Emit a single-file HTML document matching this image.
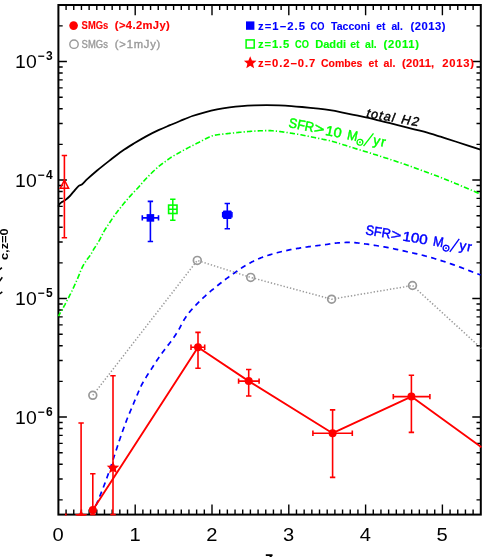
<!DOCTYPE html>
<html><head><meta charset="utf-8"><title>chart</title>
<style>html,body{margin:0;padding:0;background:#fff;overflow:hidden}svg{display:block;will-change:transform}text{font-family:"Liberation Sans",sans-serif}</style></head>
<body>
<svg width="485" height="557" viewBox="0 0 485 557">
<rect x="0" y="0" width="485" height="557" fill="#fff"/>
<defs><clipPath id="cp"><rect x="57.4" y="4" width="424.4" height="511.7"/></clipPath></defs>
<g stroke="#000" fill="none">
<rect x="58.4" y="5" width="422.4" height="509.6" stroke-width="2"/>
<path d="M66.08 514.6v-5.1M66.08 5v5.1M73.76 514.6v-5.1M73.76 5v5.1M81.44 514.6v-5.1M81.44 5v5.1M89.12 514.6v-5.1M89.12 5v5.1M96.8 514.6v-5.1M96.8 5v5.1M104.48 514.6v-5.1M104.48 5v5.1M112.16 514.6v-5.1M112.16 5v5.1M119.84 514.6v-5.1M119.84 5v5.1M127.52 514.6v-5.1M127.52 5v5.1M135.2 514.6v-10.2M135.2 5v10.2M142.88 514.6v-5.1M142.88 5v5.1M150.56 514.6v-5.1M150.56 5v5.1M158.24 514.6v-5.1M158.24 5v5.1M165.92 514.6v-5.1M165.92 5v5.1M173.6 514.6v-5.1M173.6 5v5.1M181.28 514.6v-5.1M181.28 5v5.1M188.96 514.6v-5.1M188.96 5v5.1M196.64 514.6v-5.1M196.64 5v5.1M204.32 514.6v-5.1M204.32 5v5.1M212 514.6v-10.2M212 5v10.2M219.68 514.6v-5.1M219.68 5v5.1M227.36 514.6v-5.1M227.36 5v5.1M235.04 514.6v-5.1M235.04 5v5.1M242.72 514.6v-5.1M242.72 5v5.1M250.4 514.6v-5.1M250.4 5v5.1M258.08 514.6v-5.1M258.08 5v5.1M265.76 514.6v-5.1M265.76 5v5.1M273.44 514.6v-5.1M273.44 5v5.1M281.12 514.6v-5.1M281.12 5v5.1M288.8 514.6v-10.2M288.8 5v10.2M296.48 514.6v-5.1M296.48 5v5.1M304.16 514.6v-5.1M304.16 5v5.1M311.84 514.6v-5.1M311.84 5v5.1M319.52 514.6v-5.1M319.52 5v5.1M327.2 514.6v-5.1M327.2 5v5.1M334.88 514.6v-5.1M334.88 5v5.1M342.56 514.6v-5.1M342.56 5v5.1M350.24 514.6v-5.1M350.24 5v5.1M357.92 514.6v-5.1M357.92 5v5.1M365.6 514.6v-10.2M365.6 5v10.2M373.28 514.6v-5.1M373.28 5v5.1M380.96 514.6v-5.1M380.96 5v5.1M388.64 514.6v-5.1M388.64 5v5.1M396.32 514.6v-5.1M396.32 5v5.1M404 514.6v-5.1M404 5v5.1M411.68 514.6v-5.1M411.68 5v5.1M419.36 514.6v-5.1M419.36 5v5.1M427.04 514.6v-5.1M427.04 5v5.1M434.72 514.6v-5.1M434.72 5v5.1M442.4 514.6v-10.2M442.4 5v10.2M450.08 514.6v-5.1M450.08 5v5.1M457.76 514.6v-5.1M457.76 5v5.1M465.44 514.6v-5.1M465.44 5v5.1M473.12 514.6v-5.1M473.12 5v5.1M58.4 499.87h4.3M480.8 499.87h-4.3M58.4 479h4.3M480.8 479h-4.3M58.4 464.19h4.3M480.8 464.19h-4.3M58.4 452.71h4.3M480.8 452.71h-4.3M58.4 443.33h4.3M480.8 443.33h-4.3M58.4 435.39h4.3M480.8 435.39h-4.3M58.4 428.52h4.3M480.8 428.52h-4.3M58.4 422.46h4.3M480.8 422.46h-4.3M58.4 417.04h8.5M480.8 417.04h-8.5M58.4 381.37h4.3M480.8 381.37h-4.3M58.4 360.5h4.3M480.8 360.5h-4.3M58.4 345.69h4.3M480.8 345.69h-4.3M58.4 334.21h4.3M480.8 334.21h-4.3M58.4 324.83h4.3M480.8 324.83h-4.3M58.4 316.89h4.3M480.8 316.89h-4.3M58.4 310.02h4.3M480.8 310.02h-4.3M58.4 303.96h4.3M480.8 303.96h-4.3M58.4 298.54h8.5M480.8 298.54h-8.5M58.4 262.87h4.3M480.8 262.87h-4.3M58.4 242h4.3M480.8 242h-4.3M58.4 227.19h4.3M480.8 227.19h-4.3M58.4 215.71h4.3M480.8 215.71h-4.3M58.4 206.33h4.3M480.8 206.33h-4.3M58.4 198.39h4.3M480.8 198.39h-4.3M58.4 191.52h4.3M480.8 191.52h-4.3M58.4 185.46h4.3M480.8 185.46h-4.3M58.4 180.04h8.5M480.8 180.04h-8.5M58.4 144.37h4.3M480.8 144.37h-4.3M58.4 123.5h4.3M480.8 123.5h-4.3M58.4 108.69h4.3M480.8 108.69h-4.3M58.4 97.21h4.3M480.8 97.21h-4.3M58.4 87.83h4.3M480.8 87.83h-4.3M58.4 79.89h4.3M480.8 79.89h-4.3M58.4 73.02h4.3M480.8 73.02h-4.3M58.4 66.96h4.3M480.8 66.96h-4.3M58.4 61.54h8.5M480.8 61.54h-8.5M58.4 25.87h4.3M480.8 25.87h-4.3" stroke-width="1.4"/>
</g>
<g clip-path="url(#cp)" fill="none" stroke-linecap="butt" stroke-linejoin="round">
<path d="M58.2 206.6C58.43 206.15 59.03 204.63 59.6 203.9C60.17 203.17 60.72 202.78 61.6 202.2C62.48 201.62 63.52 201.43 64.9 200.4C66.28 199.37 68.45 197.47 69.9 196C71.35 194.53 72.17 193.25 73.6 191.6C75.03 189.95 77.07 187.33 78.5 186.1C79.93 184.87 80.75 185.35 82.2 184.2C83.65 183.05 84.72 181.48 87.2 179.2C89.68 176.92 93.38 173.6 97.1 170.5C100.82 167.4 105.38 163.82 109.5 160.6C113.62 157.38 117.68 154.08 121.8 151.2C125.92 148.32 130.07 145.82 134.2 143.3C138.33 140.78 142.47 138.33 146.6 136.1C150.73 133.87 155.1 131.72 159 129.9C162.9 128.08 166.5 126.68 170 125.2C173.5 123.72 176.27 122.53 180 121C183.73 119.47 188.27 117.45 192.4 116C196.53 114.55 200.68 113.4 204.8 112.3C208.92 111.2 212.98 110.22 217.1 109.4C221.22 108.58 225.37 107.95 229.5 107.4C233.63 106.85 237.77 106.43 241.9 106.1C246.03 105.77 250.18 105.57 254.3 105.4C258.42 105.23 262.48 105.1 266.6 105.1C270.72 105.1 274.87 105.23 279 105.4C283.13 105.57 287.57 105.83 291.4 106.1C295.23 106.37 297.48 106.57 302 107C306.52 107.43 313.83 108.17 318.5 108.7C323.17 109.23 326.17 109.6 330 110.2C333.83 110.8 336.83 111.38 341.5 112.3C346.17 113.22 352.5 114.53 358 115.7C363.5 116.87 369 118.02 374.5 119.3C380 120.58 385.5 122 391 123.4C396.5 124.8 402 126.32 407.5 127.7C413 129.08 418.5 130.2 424 131.7C429.5 133.2 435 134.98 440.5 136.7C446 138.42 450.33 139.83 457 142C463.67 144.17 476.58 148.42 480.5 149.7" stroke="#000000" stroke-width="1.8"/>
<path d="M58.4 316.2 L58.59 315.86 L58.84 315.43 L59.13 314.93 L59.45 314.37 L59.8 313.76 L60.17 313.11 L60.56 312.44 L60.95 311.76 L61.33 311.09 L61.71 310.42 L62.07 309.79 L62.4 309.2 L62.71 308.64 L63.02 308.09 L63.32 307.54 L63.62 307 L63.92 306.46 L64.21 305.93 L64.51 305.39 L64.8 304.84 L65.1 304.3 L65.39 303.74 L65.69 303.18 L66 302.6 L66.31 302 L66.64 301.39 L66.97 300.75 L67.3 300.1 L67.63 299.45 L67.97 298.8 L68.3 298.15 L68.62 297.52 L68.94 296.9 L69.24 296.3 L69.53 295.74 L69.8 295.2 L70.05 294.71 L70.27 294.27 L70.48 293.88 L70.67 293.5 L70.85 293.15 L71.03 292.8 L71.21 292.45 L71.4 292.07 L71.59 291.67 L71.81 291.24 L72.04 290.75 L72.3 290.2 L72.59 289.58 L72.91 288.89 L73.25 288.16 L73.61 287.38 L73.98 286.57 L74.35 285.75 L74.72 284.93 L75.09 284.11 L75.45 283.32 L75.79 282.56 L76.11 281.85 L76.4 281.2 L76.66 280.61 L76.91 280.05 L77.14 279.54 L77.35 279.05 L77.56 278.58 L77.75 278.13 L77.94 277.69 L78.13 277.25 L78.31 276.81 L78.5 276.36 L78.7 275.89 L78.9 275.4 L79.11 274.89 L79.31 274.38 L79.51 273.86 L79.7 273.33 L79.9 272.8 L80.1 272.27 L80.3 271.74 L80.51 271.2 L80.72 270.67 L80.94 270.14 L81.16 269.62 L81.4 269.1 L81.64 268.59 L81.87 268.1 L82.11 267.61 L82.35 267.13 L82.59 266.65 L82.84 266.17 L83.11 265.68 L83.39 265.18 L83.68 264.67 L84 264.14 L84.33 263.58 L84.7 263 L85.11 262.38 L85.56 261.72 L86.04 261.02 L86.56 260.3 L87.09 259.57 L87.62 258.83 L88.16 258.1 L88.69 257.37 L89.2 256.67 L89.67 256.01 L90.11 255.38 L90.5 254.8 L90.83 254.28 L91.12 253.83 L91.37 253.42 L91.58 253.04 L91.78 252.69 L91.96 252.34 L92.15 252 L92.34 251.64 L92.55 251.25 L92.79 250.82 L93.07 250.34 L93.4 249.8 L93.77 249.2 L94.18 248.55 L94.62 247.86 L95.09 247.14 L95.57 246.4 L96.07 245.63 L96.57 244.85 L97.08 244.06 L97.58 243.26 L98.07 242.46 L98.55 241.68 L99 240.9 L99.44 240.13 L99.86 239.34 L100.28 238.55 L100.69 237.75 L101.1 236.94 L101.5 236.14 L101.9 235.33 L102.31 234.53 L102.72 233.73 L103.14 232.94 L103.56 232.17 L104 231.4 L104.44 230.65 L104.89 229.91 L105.34 229.18 L105.79 228.46 L106.25 227.75 L106.71 227.04 L107.18 226.33 L107.65 225.61 L108.13 224.9 L108.61 224.18 L109.1 223.44 L109.6 222.7 L110.1 221.94 L110.62 221.18 L111.13 220.4 L111.66 219.62 L112.19 218.83 L112.72 218.04 L113.26 217.26 L113.81 216.47 L114.35 215.69 L114.9 214.92 L115.45 214.15 L116 213.4 L116.55 212.66 L117.1 211.93 L117.66 211.2 L118.21 210.49 L118.77 209.77 L119.34 209.06 L119.9 208.35 L120.47 207.65 L121.05 206.94 L121.63 206.23 L122.21 205.52 L122.8 204.8 L123.4 204.08 L124 203.35 L124.61 202.61 L125.22 201.88 L125.84 201.14 L126.46 200.41 L127.09 199.67 L127.71 198.94 L128.34 198.22 L128.96 197.5 L129.58 196.8 L130.2 196.1 L130.83 195.4 L131.48 194.69 L132.14 193.97 L132.81 193.26 L133.49 192.55 L134.15 191.85 L134.8 191.17 L135.43 190.51 L136.03 189.88 L136.6 189.28 L137.12 188.72 L137.6 188.2 L138.02 187.74 L138.38 187.34 L138.69 186.99 L138.96 186.67 L139.21 186.39 L139.44 186.12 L139.66 185.86 L139.88 185.59 L140.12 185.31 L140.38 185.01 L140.67 184.68 L141 184.3 L141.37 183.88 L141.75 183.45 L142.15 183 L142.56 182.53 L142.99 182.04 L143.42 181.55 L143.87 181.05 L144.33 180.54 L144.79 180.03 L145.25 179.52 L145.73 179.01 L146.2 178.5 L146.68 177.99 L147.18 177.47 L147.68 176.95 L148.19 176.41 L148.71 175.88 L149.24 175.34 L149.77 174.81 L150.3 174.27 L150.83 173.74 L151.36 173.22 L151.88 172.71 L152.4 172.2 L152.92 171.7 L153.43 171.2 L153.95 170.71 L154.47 170.21 L154.98 169.73 L155.5 169.24 L156.02 168.77 L156.53 168.3 L157.05 167.83 L157.57 167.38 L158.08 166.93 L158.6 166.5 L159.12 166.08 L159.63 165.67 L160.15 165.27 L160.67 164.88 L161.19 164.5 L161.71 164.12 L162.22 163.75 L162.74 163.38 L163.26 163.01 L163.77 162.64 L164.29 162.27 L164.8 161.9 L165.31 161.52 L165.82 161.15 L166.33 160.77 L166.84 160.39 L167.34 160.01 L167.85 159.64 L168.36 159.27 L168.86 158.9 L169.37 158.54 L169.88 158.18 L170.39 157.84 L170.9 157.5 L171.41 157.17 L171.93 156.85 L172.44 156.54 L172.96 156.24 L173.48 155.94 L173.99 155.64 L174.51 155.35 L175.03 155.06 L175.55 154.77 L176.07 154.48 L176.58 154.19 L177.1 153.9 L177.62 153.6 L178.13 153.31 L178.65 153.01 L179.17 152.72 L179.68 152.42 L180.2 152.13 L180.72 151.84 L181.23 151.55 L181.75 151.26 L182.27 150.97 L182.78 150.68 L183.3 150.4 L183.82 150.12 L184.33 149.84 L184.85 149.56 L185.37 149.28 L185.88 149.01 L186.4 148.73 L186.92 148.46 L187.43 148.19 L187.95 147.91 L188.47 147.64 L188.98 147.37 L189.5 147.1 L190.02 146.83 L190.56 146.55 L191.09 146.27 L191.64 145.99 L192.18 145.7 L192.72 145.43 L193.25 145.15 L193.77 144.88 L194.28 144.62 L194.78 144.37 L195.25 144.13 L195.7 143.9 L196.12 143.69 L196.52 143.49 L196.9 143.31 L197.26 143.14 L197.6 142.97 L197.94 142.81 L198.27 142.65 L198.6 142.5 L198.93 142.33 L199.28 142.17 L199.63 141.99 L200 141.8 L200.38 141.6 L200.75 141.4 L201.13 141.19 L201.51 140.98 L201.89 140.77 L202.28 140.55 L202.68 140.33 L203.08 140.11 L203.49 139.88 L203.91 139.66 L204.35 139.43 L204.8 139.2 L205.27 138.96 L205.75 138.72 L206.25 138.46 L206.77 138.2 L207.29 137.94 L207.82 137.68 L208.35 137.42 L208.89 137.17 L209.42 136.93 L209.96 136.71 L210.48 136.49 L211 136.3 L211.49 136.13 L211.95 135.97 L212.38 135.82 L212.81 135.69 L213.23 135.57 L213.66 135.46 L214.12 135.35 L214.6 135.24 L215.13 135.14 L215.72 135.03 L216.37 134.92 L217.1 134.8 L217.91 134.68 L218.8 134.56 L219.76 134.44 L220.77 134.32 L221.82 134.2 L222.91 134.09 L224.01 133.97 L225.13 133.86 L226.25 133.74 L227.36 133.63 L228.45 133.51 L229.5 133.4 L230.53 133.29 L231.57 133.17 L232.6 133.06 L233.63 132.95 L234.67 132.84 L235.7 132.72 L236.73 132.62 L237.77 132.51 L238.8 132.4 L239.83 132.3 L240.87 132.2 L241.9 132.1 L242.93 132 L243.97 131.91 L245 131.82 L246.04 131.73 L247.07 131.64 L248.11 131.55 L249.14 131.47 L250.17 131.39 L251.21 131.31 L252.24 131.23 L253.27 131.16 L254.3 131.1 L255.34 131.04 L256.41 130.98 L257.49 130.92 L258.59 130.87 L259.68 130.82 L260.76 130.77 L261.82 130.73 L262.86 130.69 L263.86 130.66 L264.83 130.63 L265.74 130.61 L266.6 130.6 L267.39 130.59 L268.1 130.59 L268.76 130.6 L269.37 130.61 L269.94 130.62 L270.5 130.64 L271.05 130.67 L271.6 130.7 L272.17 130.74 L272.77 130.79 L273.41 130.84 L274.1 130.9 L274.84 130.97 L275.61 131.04 L276.41 131.13 L277.22 131.22 L278.05 131.32 L278.9 131.43 L279.75 131.53 L280.61 131.64 L281.47 131.76 L282.32 131.87 L283.17 131.99 L284 132.1 L284.83 132.21 L285.67 132.33 L286.52 132.46 L287.37 132.58 L288.22 132.71 L289.06 132.84 L289.9 132.97 L290.73 133.1 L291.55 133.22 L292.35 133.35 L293.14 133.48 L293.9 133.6 L294.61 133.71 L295.26 133.82 L295.85 133.91 L296.42 134 L296.98 134.09 L297.54 134.18 L298.12 134.28 L298.74 134.39 L299.43 134.51 L300.18 134.65 L301.04 134.81 L302 135 L303.1 135.22 L304.32 135.46 L305.65 135.73 L307.06 136.02 L308.53 136.33 L310.04 136.64 L311.55 136.95 L313.06 137.27 L314.53 137.57 L315.94 137.87 L317.27 138.15 L318.5 138.4 L319.63 138.63 L320.71 138.85 L321.73 139.05 L322.7 139.24 L323.65 139.42 L324.56 139.6 L325.46 139.78 L326.35 139.96 L327.24 140.15 L328.14 140.35 L329.06 140.57 L330 140.8 L330.94 141.04 L331.86 141.29 L332.76 141.54 L333.65 141.8 L334.54 142.06 L335.44 142.33 L336.35 142.61 L337.3 142.9 L338.27 143.21 L339.29 143.52 L340.37 143.85 L341.5 144.2 L342.7 144.57 L343.96 144.95 L345.27 145.36 L346.63 145.77 L348.02 146.2 L349.44 146.64 L350.87 147.09 L352.31 147.54 L353.76 147.99 L355.19 148.43 L356.61 148.87 L358 149.3 L359.37 149.72 L360.75 150.15 L362.12 150.57 L363.5 150.99 L364.87 151.41 L366.25 151.84 L367.62 152.26 L369 152.69 L370.38 153.11 L371.75 153.54 L373.12 153.97 L374.5 154.4 L375.87 154.83 L377.25 155.27 L378.62 155.71 L380 156.14 L381.37 156.58 L382.75 157.03 L384.13 157.47 L385.5 157.91 L386.88 158.36 L388.25 158.8 L389.62 159.25 L391 159.7 L392.37 160.15 L393.75 160.6 L395.12 161.05 L396.5 161.5 L397.87 161.95 L399.25 162.4 L400.62 162.86 L402 163.31 L403.38 163.78 L404.75 164.25 L406.12 164.72 L407.5 165.2 L408.87 165.69 L410.25 166.18 L411.62 166.68 L413 167.19 L414.37 167.7 L415.75 168.21 L417.12 168.73 L418.5 169.24 L419.88 169.76 L421.25 170.28 L422.62 170.79 L424 171.3 L425.37 171.81 L426.75 172.31 L428.12 172.81 L429.5 173.31 L430.87 173.81 L432.25 174.31 L433.62 174.82 L435 175.32 L436.38 175.83 L437.75 176.35 L439.12 176.87 L440.5 177.4 L441.85 177.93 L443.17 178.44 L444.46 178.96 L445.74 179.47 L447.02 179.99 L448.31 180.51 L449.63 181.05 L450.98 181.61 L452.38 182.19 L453.84 182.79 L455.38 183.43 L457 184.1 L458.79 184.84 L460.78 185.68 L462.93 186.58 L465.19 187.53 L467.49 188.5 L469.78 189.47 L472.02 190.41 L474.15 191.31 L476.11 192.15 L477.86 192.89 L479.34 193.51 L480.5 194" stroke="#00ff00" stroke-width="1.6" stroke-dasharray="5.3 2.1 1.25 2.1" stroke-dashoffset="1"/>
<path d="M480.5 275 L479.34 274.55 L477.86 273.98 L476.11 273.3 L474.15 272.54 L472.02 271.72 L469.78 270.85 L467.49 269.96 L465.19 269.08 L462.93 268.22 L460.78 267.41 L458.79 266.66 L457 266 L455.38 265.41 L453.84 264.86 L452.38 264.34 L450.98 263.85 L449.63 263.39 L448.31 262.94 L447.02 262.5 L445.74 262.08 L444.46 261.66 L443.17 261.25 L441.85 260.83 L440.5 260.4 L439.12 259.97 L437.75 259.54 L436.38 259.12 L435 258.7 L433.62 258.29 L432.25 257.89 L430.88 257.49 L429.5 257.1 L428.12 256.71 L426.75 256.33 L425.38 255.96 L424 255.6 L422.62 255.25 L421.25 254.91 L419.88 254.57 L418.5 254.25 L417.12 253.94 L415.75 253.63 L414.38 253.32 L413 253.01 L411.62 252.71 L410.25 252.41 L408.88 252.11 L407.5 251.8 L406.12 251.49 L404.75 251.18 L403.38 250.87 L402 250.56 L400.62 250.25 L399.25 249.94 L397.88 249.64 L396.5 249.34 L395.12 249.05 L393.75 248.76 L392.38 248.47 L391 248.2 L389.62 247.93 L388.25 247.67 L386.88 247.41 L385.5 247.16 L384.12 246.91 L382.75 246.67 L381.38 246.43 L380 246.2 L378.62 245.97 L377.25 245.74 L375.88 245.52 L374.5 245.3 L373.1 245.08 L371.67 244.86 L370.22 244.64 L368.76 244.43 L367.29 244.21 L365.84 244.01 L364.41 243.81 L363.01 243.62 L361.66 243.44 L360.37 243.28 L359.14 243.13 L358 243 L356.95 242.89 L356.01 242.79 L355.14 242.7 L354.33 242.62 L353.57 242.56 L352.84 242.51 L352.12 242.46 L351.4 242.43 L350.65 242.41 L349.86 242.4 L349.02 242.4 L348.1 242.4 L347.1 242.42 L346.04 242.45 L344.92 242.49 L343.77 242.54 L342.6 242.61 L341.41 242.68 L340.23 242.76 L339.07 242.84 L337.95 242.93 L336.87 243.02 L335.85 243.11 L334.9 243.2 L334.04 243.29 L333.26 243.39 L332.54 243.49 L331.86 243.59 L331.22 243.7 L330.6 243.81 L329.98 243.92 L329.35 244.03 L328.69 244.15 L327.99 244.27 L327.23 244.38 L326.4 244.5 L325.5 244.62 L324.56 244.73 L323.57 244.85 L322.56 244.97 L321.51 245.1 L320.44 245.22 L319.36 245.34 L318.28 245.47 L317.19 245.6 L316.11 245.73 L315.05 245.86 L314 246 L312.97 246.14 L311.93 246.28 L310.9 246.42 L309.86 246.57 L308.83 246.71 L307.79 246.86 L306.76 247.01 L305.73 247.17 L304.69 247.32 L303.66 247.48 L302.63 247.64 L301.6 247.8 L300.57 247.96 L299.55 248.12 L298.52 248.29 L297.5 248.45 L296.47 248.61 L295.45 248.78 L294.43 248.95 L293.4 249.13 L292.38 249.31 L291.35 249.5 L290.33 249.7 L289.3 249.9 L288.27 250.11 L287.24 250.33 L286.21 250.55 L285.17 250.78 L284.14 251.01 L283.11 251.25 L282.07 251.49 L281.04 251.74 L280 252 L278.97 252.26 L277.93 252.53 L276.9 252.8 L275.86 253.08 L274.8 253.37 L273.74 253.66 L272.67 253.96 L271.61 254.26 L270.54 254.57 L269.49 254.89 L268.45 255.21 L267.42 255.53 L266.42 255.85 L265.45 256.18 L264.5 256.5 L263.59 256.82 L262.71 257.15 L261.85 257.47 L261.01 257.79 L260.2 258.11 L259.39 258.44 L258.6 258.78 L257.81 259.12 L257.02 259.47 L256.22 259.84 L255.42 260.21 L254.6 260.6 L253.77 261 L252.95 261.41 L252.12 261.83 L251.3 262.26 L250.47 262.69 L249.65 263.14 L248.83 263.59 L248 264.06 L247.17 264.53 L246.35 265.01 L245.52 265.5 L244.7 266 L243.87 266.51 L243.05 267.04 L242.22 267.57 L241.4 268.12 L240.57 268.68 L239.75 269.24 L238.92 269.81 L238.1 270.39 L237.28 270.97 L236.45 271.55 L235.63 272.12 L234.8 272.7 L233.97 273.28 L233.13 273.87 L232.28 274.47 L231.43 275.07 L230.57 275.68 L229.73 276.28 L228.88 276.89 L228.05 277.49 L227.23 278.08 L226.43 278.66 L225.65 279.24 L224.9 279.8 L224.17 280.35 L223.46 280.89 L222.76 281.42 L222.08 281.95 L221.42 282.47 L220.76 282.99 L220.12 283.5 L219.49 284 L218.86 284.51 L218.24 285.01 L217.62 285.5 L217 286 L216.39 286.49 L215.8 286.97 L215.22 287.44 L214.64 287.9 L214.08 288.36 L213.52 288.82 L212.96 289.29 L212.4 289.75 L211.84 290.22 L211.27 290.7 L210.69 291.2 L210.1 291.7 L209.5 292.22 L208.9 292.74 L208.29 293.27 L207.67 293.8 L207.05 294.35 L206.43 294.89 L205.81 295.45 L205.19 296.01 L204.56 296.57 L203.94 297.14 L203.32 297.72 L202.7 298.3 L202.08 298.89 L201.46 299.49 L200.83 300.09 L200.2 300.71 L199.58 301.33 L198.95 301.95 L198.33 302.58 L197.71 303.2 L197.09 303.83 L196.49 304.46 L195.89 305.08 L195.3 305.7 L194.72 306.32 L194.14 306.93 L193.56 307.55 L192.98 308.17 L192.41 308.78 L191.85 309.4 L191.3 310.02 L190.75 310.63 L190.22 311.25 L189.7 311.87 L189.19 312.48 L188.7 313.1 L188.23 313.71 L187.77 314.31 L187.34 314.91 L186.91 315.5 L186.5 316.1 L186.09 316.69 L185.7 317.3 L185.3 317.91 L184.91 318.53 L184.51 319.17 L184.11 319.82 L183.7 320.5 L183.29 321.2 L182.89 321.92 L182.49 322.66 L182.09 323.41 L181.7 324.17 L181.3 324.94 L180.9 325.72 L180.5 326.5 L180.09 327.29 L179.67 328.06 L179.24 328.84 L178.8 329.6 L178.36 330.35 L177.91 331.1 L177.47 331.84 L177.02 332.57 L176.57 333.31 L176.11 334.05 L175.63 334.79 L175.14 335.55 L174.64 336.31 L174.12 337.09 L173.57 337.89 L173 338.7 L172.4 339.54 L171.77 340.39 L171.11 341.26 L170.43 342.15 L169.73 343.04 L169.02 343.95 L168.3 344.86 L167.59 345.77 L166.87 346.69 L166.17 347.6 L165.47 348.5 L164.8 349.4 L164.13 350.3 L163.47 351.2 L162.8 352.11 L162.13 353.03 L161.46 353.94 L160.8 354.85 L160.15 355.76 L159.51 356.65 L158.88 357.54 L158.27 358.41 L157.67 359.26 L157.1 360.1 L156.54 360.93 L156 361.75 L155.46 362.57 L154.94 363.39 L154.44 364.19 L153.94 364.98 L153.46 365.75 L153 366.5 L152.55 367.22 L152.12 367.92 L151.7 368.58 L151.3 369.2 L150.93 369.76 L150.6 370.25 L150.31 370.69 L150.03 371.08 L149.78 371.45 L149.53 371.81 L149.27 372.17 L149.01 372.55 L148.73 372.97 L148.43 373.44 L148.08 373.98 L147.7 374.6 L147.27 375.3 L146.81 376.05 L146.31 376.84 L145.8 377.69 L145.26 378.56 L144.71 379.47 L144.16 380.4 L143.6 381.35 L143.05 382.31 L142.52 383.27 L142 384.24 L141.5 385.2 L141.02 386.18 L140.53 387.19 L140.05 388.24 L139.58 389.3 L139.11 390.38 L138.64 391.46 L138.19 392.54 L137.74 393.6 L137.31 394.63 L136.89 395.63 L136.49 396.59 L136.1 397.5 L135.74 398.34 L135.41 399.11 L135.1 399.82 L134.82 400.5 L134.54 401.15 L134.28 401.79 L134 402.44 L133.73 403.11 L133.43 403.82 L133.12 404.57 L132.78 405.4 L132.4 406.3 L131.99 407.28 L131.56 408.31 L131.1 409.38 L130.63 410.5 L130.14 411.65 L129.64 412.83 L129.13 414.04 L128.62 415.27 L128.11 416.52 L127.6 417.77 L127.09 419.04 L126.6 420.3 L126.11 421.57 L125.62 422.87 L125.13 424.19 L124.64 425.52 L124.14 426.87 L123.65 428.23 L123.16 429.61 L122.66 430.99 L122.17 432.39 L121.68 433.79 L121.19 435.19 L120.7 436.6 L120.21 438.02 L119.73 439.45 L119.24 440.89 L118.76 442.34 L118.28 443.81 L117.79 445.28 L117.31 446.75 L116.83 448.22 L116.35 449.7 L115.87 451.17 L115.38 452.64 L114.9 454.1 L114.42 455.56 L113.93 457.04 L113.45 458.51 L112.97 459.99 L112.48 461.47 L112 462.95 L111.52 464.42 L111.03 465.89 L110.55 467.34 L110.07 468.78 L109.58 470.2 L109.1 471.6 L108.62 472.99 L108.13 474.36 L107.65 475.72 L107.17 477.07 L106.69 478.41 L106.21 479.74 L105.72 481.06 L105.24 482.36 L104.76 483.66 L104.27 484.95 L103.79 486.23 L103.3 487.5 L102.81 488.77 L102.31 490.04 L101.8 491.31 L101.29 492.57 L100.77 493.82 L100.26 495.06 L99.76 496.28 L99.26 497.48 L98.77 498.65 L98.3 499.8 L97.84 500.92 L97.4 502 L96.97 503.06 L96.55 504.13 L96.13 505.18 L95.73 506.22 L95.33 507.24 L94.94 508.22 L94.57 509.16 L94.22 510.06 L93.88 510.89 L93.57 511.67 L93.27 512.37 L93 513 L92.75 513.54 L92.53 514 L92.33 514.38 L92.14 514.7 L91.97 514.97 L91.83 515.19 L91.69 515.37 L91.57 515.52 L91.46 515.65 L91.37 515.77 L91.28 515.88 L91.2 516" stroke="#0000ff" stroke-width="1.7" stroke-dasharray="5.4 4.4" stroke-dashoffset="2"/>
<path d="M92.8 395.3 L197.3 260.4 L250.7 277.4 L331.6 299.2 L412.5 285.5 L481.5 348.5" stroke="#999999" stroke-width="1.5" stroke-dasharray="1.35 1.95"/>
<path d="M92.8 510 L198 347.2 L248.7 381.1 L332.6 433.2 L411.4 396.6 L481.5 447.2" stroke="#ff0000" stroke-width="1.9"/>
</g>
<g clip-path="url(#cp)">
<circle cx="92.8" cy="395.3" r="3.9" fill="none" stroke="#999999" stroke-width="1.7"/>
<circle cx="197.3" cy="260.4" r="3.9" fill="none" stroke="#999999" stroke-width="1.7"/>
<circle cx="250.7" cy="277.4" r="3.9" fill="none" stroke="#999999" stroke-width="1.7"/>
<circle cx="331.6" cy="299.2" r="3.9" fill="none" stroke="#999999" stroke-width="1.7"/>
<circle cx="412.5" cy="285.5" r="3.9" fill="none" stroke="#999999" stroke-width="1.7"/>
<path stroke="#ff0000" stroke-width="1.6" fill="none" d="M92.8 473.8V514.6M90.1 473.8H95.5M90.1 514.6H95.5"/>
<path stroke="#ff0000" stroke-width="1.6" fill="none" d="M198 332.4V368.3M195.3 332.4H200.7M195.3 368.3H200.7M191 347.2H204.7M191 344.5V349.9M204.7 344.5V349.9"/>
<path stroke="#ff0000" stroke-width="1.6" fill="none" d="M248.7 369.5V396M246 369.5H251.4M246 396H251.4M238.6 381.1H259.1M238.6 378.4V383.8M259.1 378.4V383.8"/>
<path stroke="#ff0000" stroke-width="1.6" fill="none" d="M332.6 409.9V477.4M329.9 409.9H335.3M329.9 477.4H335.3M312.9 433.2H352.3M312.9 430.5V435.9M352.3 430.5V435.9"/>
<path stroke="#ff0000" stroke-width="1.6" fill="none" d="M411.4 375.3V432.4M408.7 375.3H414.1M408.7 432.4H414.1M393.3 396.6H429.9M393.3 393.9V399.3M429.9 393.9V399.3"/>
<circle cx="92.8" cy="510" r="4" fill="#ff0000"/>
<circle cx="198" cy="347.2" r="4" fill="#ff0000"/>
<circle cx="248.7" cy="381.1" r="4" fill="#ff0000"/>
<circle cx="332.6" cy="433.2" r="4" fill="#ff0000"/>
<circle cx="411.4" cy="396.6" r="4" fill="#ff0000"/>
<path stroke="#ff0000" stroke-width="1.6" fill="none" d="M81.1 423V518M78.4 423H83.8"/>
<polygon points="81.1,509.6 82.85,513.8 87.38,514.16 83.92,517.12 84.98,521.54 81.1,519.17 77.22,521.54 78.28,517.12 74.82,514.16 79.35,513.8" fill="#ff0000"/>
<path stroke="#ff0000" stroke-width="1.6" fill="none" d="M113 375.7V514.6M110.3 375.7H115.7M110.3 514.6H115.7"/>
<polygon points="113,461.3 114.75,465.5 119.28,465.86 115.82,468.82 116.88,473.24 113,470.87 109.12,473.24 110.18,468.82 106.72,465.86 111.25,465.5" fill="#ff0000"/>
<rect x="65" y="513.4" width="1.7" height="2.3" fill="#ff0000"/>
<path stroke="#ff0000" stroke-width="1.6" fill="none" d="M64.4 155.5V237.8M61.7 155.5H67.1M61.7 237.8H67.1"/>
<path d="M64.4 180.2L68.6 188.3H60.2Z" fill="none" stroke="#ff0000" stroke-width="1.5"/>
<path stroke="#0000ff" stroke-width="1.6" fill="none" d="M150.4 201.4V241.5M147.7 201.4H153.1M147.7 241.5H153.1M142.3 217.9H158.5M142.3 215.2V220.6M158.5 215.2V220.6"/>
<rect x="146.6" y="214.1" width="7.6" height="7.6" fill="#0000ff"/>
<path stroke="#0000ff" stroke-width="1.6" fill="none" d="M227.3 203.5V228.8M224.6 203.5H230M224.6 228.8H230M222.7 214.7H231.9M222.7 212V217.4M231.9 212V217.4"/>
<rect x="223" y="210.4" width="8.6" height="8.6" rx="0.8" fill="#0000ff"/>
<path stroke="#00ff00" stroke-width="1.5" fill="none" d="M172.8 199.3V220.3M170.1 199.3H175.5M170.1 220.3H175.5M168.6 209.3H177"/>
<rect x="168.6" y="205.1" width="8.4" height="8.4" fill="none" stroke="#00ff00" stroke-width="1.6"/>
</g>
<g fill="#000">
<text x="58.2" y="541.4" font-size="18" text-anchor="middle" textLength="11.2" lengthAdjust="spacingAndGlyphs">0</text>
<text x="135" y="541.4" font-size="18" text-anchor="middle" textLength="11.2" lengthAdjust="spacingAndGlyphs">1</text>
<text x="211.8" y="541.4" font-size="18" text-anchor="middle" textLength="11.2" lengthAdjust="spacingAndGlyphs">2</text>
<text x="288.6" y="541.4" font-size="18" text-anchor="middle" textLength="11.2" lengthAdjust="spacingAndGlyphs">3</text>
<text x="365.4" y="541.4" font-size="18" text-anchor="middle" textLength="11.2" lengthAdjust="spacingAndGlyphs">4</text>
<text x="442.2" y="541.4" font-size="18" text-anchor="middle" textLength="11.2" lengthAdjust="spacingAndGlyphs">5</text>
<text x="15.1" y="68.04" font-size="17.6" textLength="21.6" lengthAdjust="spacingAndGlyphs">10</text>
<text x="37.6" y="60.24" font-size="12" font-weight="bold" textLength="15.2" lengthAdjust="spacing">−3</text>
<text x="15.1" y="186.54" font-size="17.6" textLength="21.6" lengthAdjust="spacingAndGlyphs">10</text>
<text x="37.6" y="178.74" font-size="12" font-weight="bold" textLength="15.2" lengthAdjust="spacing">−4</text>
<text x="15.1" y="305.04" font-size="17.6" textLength="21.6" lengthAdjust="spacingAndGlyphs">10</text>
<text x="37.6" y="297.24" font-size="12" font-weight="bold" textLength="15.2" lengthAdjust="spacing">−5</text>
<text x="15.1" y="423.54" font-size="17.6" textLength="21.6" lengthAdjust="spacingAndGlyphs">10</text>
<text x="37.6" y="415.74" font-size="12" font-weight="bold" textLength="15.2" lengthAdjust="spacing">−6</text>
</g>
<text transform="translate(7.6 260) rotate(-90)" font-size="10" font-weight="bold" fill="#000" textLength="31.6" lengthAdjust="spacingAndGlyphs">c,z=0</text>
<path stroke="#000" stroke-width="1.5" fill="none" d="M-0.5 269.8L1.9 267.6M-0.5 281.2L2.3 277.3M-0.5 294L2.3 291.8"/>
<path d="M265.8 555.1H271.9L269.4 558" stroke="#000" stroke-width="1.7" fill="none" stroke-linejoin="round"/>
<circle cx="73.6" cy="25.6" r="4.3" fill="#ff0000"/>
<text transform="translate(81.6 29.4) scale(0.906 1)" font-size="10.4" font-weight="bold" fill="#ff0000" textLength="29.47" lengthAdjust="spacing" stroke="#ff0000" stroke-width="0.12">SMGs</text><text transform="translate(114.8 29.4) scale(1.080 1)" font-size="10.4" font-weight="bold" fill="#ff0000" textLength="50.93" lengthAdjust="spacing" stroke="#ff0000" stroke-width="0.12">(&gt;4.2mJy)</text>
<circle cx="74" cy="44.2" r="4.2" fill="none" stroke="#999999" stroke-width="1.4"/>
<text transform="translate(81.6 48) scale(0.910 1)" font-size="10.4"  fill="#999999" textLength="28.89" lengthAdjust="spacing" stroke="#999999" stroke-width="0.35">SMGs</text><text transform="translate(114.8 48) scale(1.080 1)" font-size="10.4"  fill="#999999" textLength="42.13" lengthAdjust="spacing" stroke="#999999" stroke-width="0.35">(&gt;1mJy)</text>
<rect x="246" y="21.4" width="8.4" height="8.4" fill="#0000ff"/>
<text transform="translate(258 29.7) scale(1.080 1)" font-size="10.4" font-weight="bold" fill="#0000ff" textLength="43.43" lengthAdjust="spacing" stroke="#0000ff" stroke-width="0.12">z=1−2.5</text><text transform="translate(310.5 29.7) scale(0.891 1)" font-size="10.4" font-weight="bold" fill="#0000ff" textLength="15.6" lengthAdjust="spacing" stroke="#0000ff" stroke-width="0.12">CO</text><text transform="translate(331.1 29.7) scale(1.012 1)" font-size="10.4" font-weight="bold" fill="#0000ff" textLength="38.52" lengthAdjust="spacing" stroke="#0000ff" stroke-width="0.12">Tacconi</text><text transform="translate(376.2 29.7) scale(0.984 1)" font-size="10.4" font-weight="bold" fill="#0000ff" textLength="9.25" lengthAdjust="spacing" stroke="#0000ff" stroke-width="0.12">et</text><text transform="translate(391.4 29.7) scale(0.986 1)" font-size="10.4" font-weight="bold" fill="#0000ff" textLength="11.56" lengthAdjust="spacing" stroke="#0000ff" stroke-width="0.12">al.</text><text transform="translate(410.4 29.7) scale(1.080 1)" font-size="10.4" font-weight="bold" fill="#0000ff" textLength="32.59" lengthAdjust="spacing" stroke="#0000ff" stroke-width="0.12">(2013)</text>
<rect x="246.1" y="39.9" width="8.1" height="8.1" fill="none" stroke="#00ff00" stroke-width="1.5"/>
<text transform="translate(258 48.3) scale(1.080 1)" font-size="10.4" font-weight="bold" fill="#00ff00" textLength="28.89" lengthAdjust="spacing" stroke="#00ff00" stroke-width="0.12">z=1.5</text><text transform="translate(295.1 48.3) scale(0.891 1)" font-size="10.4" font-weight="bold" fill="#00ff00" textLength="15.6" lengthAdjust="spacing" stroke="#00ff00" stroke-width="0.12">CO</text><text transform="translate(315.2 48.3) scale(1.066 1)" font-size="10.4" font-weight="bold" fill="#00ff00" textLength="28.89" lengthAdjust="spacing" stroke="#00ff00" stroke-width="0.12">Daddi</text><text transform="translate(350.2 48.3) scale(1.006 1)" font-size="10.4" font-weight="bold" fill="#00ff00" textLength="9.25" lengthAdjust="spacing" stroke="#00ff00" stroke-width="0.12">et</text><text transform="translate(365.1 48.3) scale(1.012 1)" font-size="10.4" font-weight="bold" fill="#00ff00" textLength="11.56" lengthAdjust="spacing" stroke="#00ff00" stroke-width="0.12">al.</text><text transform="translate(383.6 48.3) scale(1.080 1)" font-size="10.4" font-weight="bold" fill="#00ff00" textLength="32.87" lengthAdjust="spacing" stroke="#00ff00" stroke-width="0.12">(2011)</text>
<polygon points="250.2,56.2 251.95,60.4 256.48,60.76 253.02,63.72 254.08,68.14 250.2,65.77 246.32,68.14 247.38,63.72 243.92,60.76 248.45,60.4" fill="#ff0000"/>
<text transform="translate(258 66.6) scale(1.080 1)" font-size="10.4" font-weight="bold" fill="#ff0000" textLength="52.96" lengthAdjust="spacing" stroke="#ff0000" stroke-width="0.12">z=0.2−0.7</text><text transform="translate(320.9 66.6) scale(1.009 1)" font-size="10.4" font-weight="bold" fill="#ff0000" textLength="41.03" lengthAdjust="spacing" stroke="#ff0000" stroke-width="0.12">Combes</text><text transform="translate(368.6 66.6) scale(1.006 1)" font-size="10.4" font-weight="bold" fill="#ff0000" textLength="9.25" lengthAdjust="spacing" stroke="#ff0000" stroke-width="0.12">et</text><text transform="translate(383.6 66.6) scale(1.021 1)" font-size="10.4" font-weight="bold" fill="#ff0000" textLength="11.56" lengthAdjust="spacing" stroke="#ff0000" stroke-width="0.12">al.</text><text transform="translate(402.1 66.6) scale(1.080 1)" font-size="10.4" font-weight="bold" fill="#ff0000" textLength="29.72" lengthAdjust="spacing" stroke="#ff0000" stroke-width="0.12">(2011,</text><text transform="translate(442.3 66.6) scale(1.080 1)" font-size="10.4" font-weight="bold" fill="#ff0000" textLength="29.26" lengthAdjust="spacing" stroke="#ff0000" stroke-width="0.12">2013)</text>
<g transform="translate(365.9 117.0) rotate(10)" fill="#000" stroke="#000" stroke-width="0.4" font-size="12.6" font-style="italic"><text x="0" y="0" textLength="28.6" lengthAdjust="spacing">total</text><text x="35.4" y="0" textLength="17.6" lengthAdjust="spacing">H2</text></g>
<g transform="translate(288.6 127.2) rotate(11.6)" fill="#00ff00" stroke="#00ff00" stroke-width="0.45" font-size="13.6"><text x="-0.5" y="0" textLength="25.4" lengthAdjust="spacingAndGlyphs">SFR</text><text x="25.4" y="0" textLength="10.2" lengthAdjust="spacingAndGlyphs">&gt;</text><text x="37" y="0" textLength="16.2" lengthAdjust="spacingAndGlyphs">10</text><text x="59" y="0" textLength="10.4" lengthAdjust="spacingAndGlyphs">M</text><circle cx="72.9" cy="0.4" r="2.9" fill="none" stroke-width="1.3"/><circle cx="72.9" cy="0.4" r="0.9" stroke="none"/><path d="M77.2 3.4L84.4 -11" fill="none" stroke-width="1.35"/><text x="85.6" y="0" textLength="12.4" lengthAdjust="spacing">yr</text></g>
<g transform="translate(365.4 234.4) rotate(9.4)" fill="#0000ff" stroke="#0000ff" stroke-width="0.45" font-size="13.6"><text x="-0.5" y="0" textLength="25.4" lengthAdjust="spacingAndGlyphs">SFR</text><text x="25.4" y="0" textLength="10.2" lengthAdjust="spacingAndGlyphs">&gt;</text><text x="37" y="0" textLength="25.4" lengthAdjust="spacingAndGlyphs">100</text><text x="67.9" y="0" textLength="10.4" lengthAdjust="spacingAndGlyphs">M</text><circle cx="81.8" cy="0.4" r="2.9" fill="none" stroke-width="1.3"/><circle cx="81.8" cy="0.4" r="0.9" stroke="none"/><path d="M86.1 3.4L93.3 -11" fill="none" stroke-width="1.35"/><text x="94.5" y="0" textLength="12.4" lengthAdjust="spacing">yr</text></g>
</svg>
</body></html>
